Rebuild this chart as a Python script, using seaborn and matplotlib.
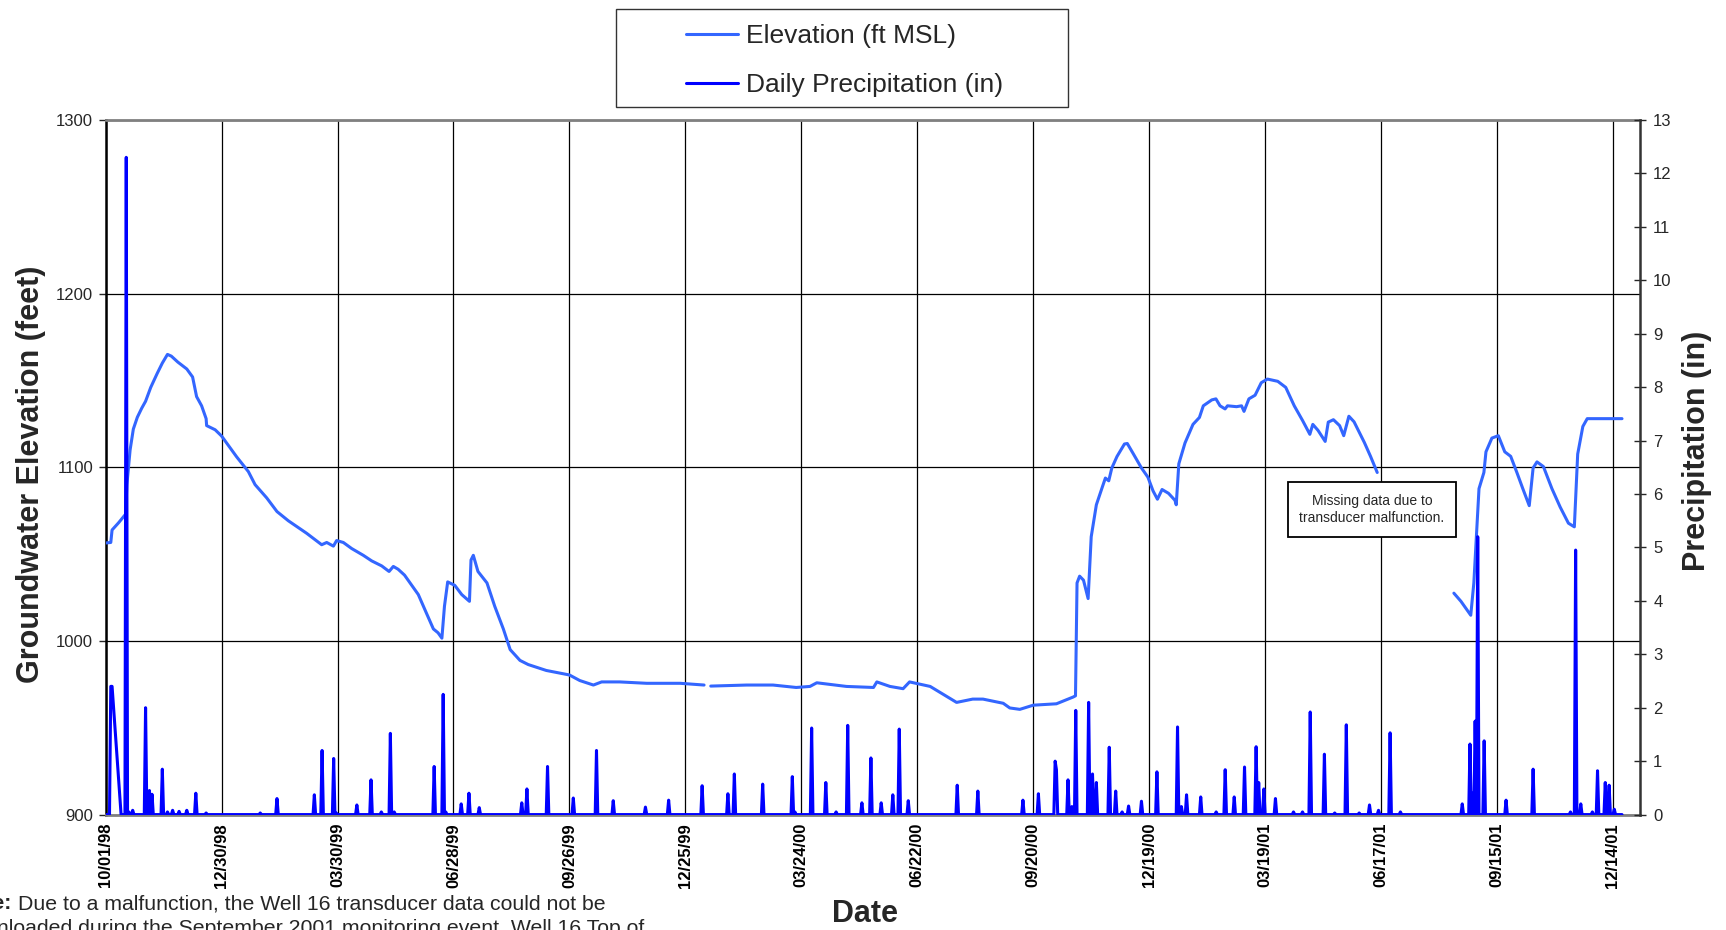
import numpy as np
import pandas as pd
import matplotlib
matplotlib.use("Agg")
import matplotlib.pyplot as plt
from matplotlib.patches import Rectangle
import seaborn as sns

# ==============================
# Data (days after 10/01/98)
# ==============================
start_date = pd.Timestamp("1998-10-01")

# groundwater elevation, np.nan marks a break in the record
elev_days = [0, 4, 5, 10, 15.5, 16.5, 19, 21.5, 24.6, 28, 31, 35, 40, 44, 48, 51, 56, 63,
             67.5, 70.6, 74.5, 78, 78.4, 85, 90, 101.7, 110.8, 116, 125, 133, 141.8, 156,
             167.7, 171.6, 176.8, 179.3, 184.5, 191, 200, 206.5, 214.3, 220, 223.3, 227,
             232, 242.7, 249, 254.4, 258, 261, 263, 265.5, 271, 276.4, 282.4, 283.6, 285.4,
             289, 296, 302, 308.7, 314, 321.6, 328, 342, 360, 368, 378.6, 385, 399, 420,
             446, 464.5, np.nan,
             469.7, 497.6, 518, 536, 546.7, 552, 575, 596, 598.6, 608.8, 619, 624, 640,
             660.5, 673, 681, 696.7, 701.8, 709.6, 720, 738, 751, 752.8, 754, 756, 759,
             762.6, 765, 769, 773.8, 776, 778.6, 781, 785, 790.8, 793, 797.8, 804, 809, 813,
             816.4, 820, 825, 830, 831, 833, 837.8, 844, 849, 852, 858.6, 861.8, 865, 868.9,
             870.8, 877.8, 881.7, 883.6, 887.4, 892.2, 897, 901.8, 909.8, 916, 922.6, 929,
             934.7, 937, 941, 946.6, 949, 953, 957.8, 961, 965, 969, 977, 981.8, 987, np.nan,
             1046.5, 1052, 1059.6, 1062, 1066, 1069.8, 1071.4, 1076, 1081, 1086, 1090.6,
             1095.4, 1100, 1105, 1108, 1111, 1116, 1122.6, 1129, 1135.4, 1140, 1142.6,
             1146.6, 1150, 1177]
elev_ft = [1056.4, 1056.7, 1063.9, 1068, 1073, 1090, 1110, 1122, 1128.8, 1134, 1138, 1146,
           1154, 1160, 1165, 1164, 1160.6, 1156.6, 1152, 1140.7, 1135.4, 1128, 1124, 1121.6,
           1118, 1106, 1097.5, 1090, 1082.4, 1074.5, 1069.2, 1062, 1055.4, 1056.7, 1054.6,
           1057.8, 1056.7, 1053.2, 1049.3, 1046.1, 1043.2, 1040, 1042.9, 1041.3, 1037.9,
           1026.7, 1016, 1006.9, 1004.7, 1001.6, 1020, 1034, 1032, 1026.7, 1022.8, 1046.6,
           1049.3, 1040, 1033.4, 1020, 1006.9, 995, 988.8, 986.4, 983, 980.4, 977.2, 974.6,
           976.4, 976.4, 975.6, 975.6, 974.6, np.nan,
           974, 974.6, 974.6, 973.2, 973.8, 975.9, 973.8, 973.2, 976.4, 973.8, 972.5, 976.4,
           973.8, 964.6, 966.5, 966.5, 964.1, 961.4, 960.6, 963, 963.8, 967.7, 968.4,
           1033.4, 1037.3, 1035, 1024.4, 1060, 1078.4, 1089, 1093.8, 1092.2, 1099.6, 1106.2,
           1113.4, 1113.7, 1107.6, 1099.6, 1094.3, 1086.4, 1081.6, 1087.2, 1085, 1081,
           1078.4, 1102, 1114, 1124.7, 1128.7, 1135.4, 1138.8, 1139.4, 1135.4, 1133.6,
           1135.4, 1134.9, 1135.4, 1132.2, 1139.4, 1141.5, 1148.7, 1150.8, 1149.5, 1146,
           1135.4, 1127, 1119, 1124.7, 1121.3, 1114.9, 1126, 1127.4, 1124, 1118.2, 1129.4,
           1126.2, 1114.3, 1106.3, 1097, np.nan,
           1027.5, 1022.8, 1014.8, 1033.4, 1087.7, 1097, 1108.9, 1116.8, 1118.2, 1108.9,
           1106.3, 1097, 1087.7, 1077.9, 1099.6, 1103.1, 1100.4, 1087.7, 1077.1, 1067.8,
           1065.7, 1107.6, 1123.5, 1128, 1128]

# daily precipitation: rainy days only, all other recorded days are 0
precip_days = [4, 5, 16, 18, 21, 31, 34, 36, 44, 48, 52, 57, 63, 70, 78, 120, 133, 162, 168,
               177, 179, 195, 206, 214, 221, 224, 255, 262, 264, 276, 282, 290, 323, 327, 343,
               363, 381, 394, 419, 437, 463, 483, 488, 510, 533, 535, 548, 559, 567, 576, 587,
               594, 602, 611, 616, 623, 661, 677, 712, 724, 737, 738, 747, 750, 753, 763, 766,
               769, 779, 784, 789, 794, 804, 816, 832, 835, 839, 850, 862, 869, 876, 884, 893,
               895, 899, 908, 922, 929, 935, 946, 954, 963, 973, 981, 988, 997, 1005, 1053,
               1059, 1061, 1063, 1065, 1070, 1087, 1108, 1137, 1141, 1145, 1154, 1158, 1164,
               1167, 1171]
precip_in = [2.4, 2.4, 12.3, 0.05, 0.08, 2.0, 0.45, 0.38, 0.85, 0.05, 0.08, 0.06, 0.08, 0.4,
             0.03, 0.03, 0.3, 0.37, 1.2, 1.05, 0.03, 0.18, 0.65, 0.05, 1.52, 0.05, 0.9, 2.25,
             0.05, 0.2, 0.4, 0.13, 0.22, 0.48, 0.9, 0.31, 1.2, 0.26, 0.14, 0.27, 0.54, 0.39,
             0.76, 0.57, 0.71, 0.05, 1.62, 0.6, 0.05, 1.67, 0.22, 1.06, 0.22, 0.37, 1.6, 0.26,
             0.55, 0.44, 0.27, 0.39, 1.0, 0.84, 0.65, 0.15, 1.95, 2.1, 0.76, 0.6, 1.26, 0.44,
             0.05, 0.16, 0.25, 0.8, 1.64, 0.15, 0.37, 0.33, 0.05, 0.84, 0.33, 0.89, 1.27, 0.6,
             0.48, 0.3, 0.05, 0.05, 1.92, 1.13, 0.03, 1.68, 0.03, 0.18, 0.08, 1.53, 0.05, 0.2,
             1.32, 0.4, 1.75, 5.2, 1.38, 0.27, 0.85, 0.05, 4.95, 0.2, 0.05, 0.82, 0.6, 0.55,
             0.1]
precip_first_day = 0
precip_last_day = 1177
precip_no_record = [6, 7, 8, 9, 10, 11]

tick_labels = ["10/01/98", "12/30/98", "03/30/99", "06/28/99", "09/26/99", "12/25/99",
               "03/24/00", "06/22/00", "09/20/00", "12/19/00", "03/19/01", "06/17/01",
               "09/15/01", "12/14/01"]

# ==============================
# Build frames
# ==============================
elev = pd.DataFrame({"day": elev_days, "ft": elev_ft})
elev["segment"] = elev["day"].isna().cumsum()
elev = elev.dropna()
elev["date"] = start_date + pd.to_timedelta(elev["day"], unit="D")

precip = pd.Series(0.0, index=range(precip_first_day, precip_last_day + 1))
precip.loc[precip_days] = precip_in
precip = precip.drop(precip_no_record)
precip = precip.rename_axis("day").reset_index(name="inches")
precip["date"] = start_date + pd.to_timedelta(precip["day"], unit="D")

# ==============================
# Plot
# ==============================
sns.set_style("white")
plt.rcParams["font.family"] = ["Liberation Sans", "DejaVu Sans"]

elev_color = "#3366FF"
precip_color = "#0000FF"

fig = plt.figure(figsize=(17.26, 9.30), dpi=100)
ax = fig.add_axes([0.0612, 0.1241, 0.8890, 0.7469])
ax2 = ax.twinx()

sns.lineplot(data=elev, x="date", y="ft", units="segment", estimator=None, sort=False,
             color=elev_color, lw=2.2, label="Elevation (ft MSL)", ax=ax, zorder=3)
sns.lineplot(data=precip, x="date", y="inches", estimator=None, sort=False,
             color=precip_color, lw=2.2, label="Daily Precipitation (in)", ax=ax2, zorder=3)

h1, l1 = ax.get_legend_handles_labels()
h2, l2 = ax2.get_legend_handles_labels()
ax.get_legend().remove()
ax2.get_legend().remove()

# x axis
tick_dates = [pd.to_datetime(t, format="%m/%d/%y") for t in tick_labels]
ax.set_xlim(start_date, start_date + pd.Timedelta(days=1191))
ax.set_xticks(tick_dates)
ax.set_xticklabels(tick_labels, rotation=90, fontweight="bold", fontsize=12)
ax.tick_params(axis="x", direction="out", length=5, width=1, pad=1, colors="black")
ax.set_xlabel("")

# left axis
ax.set_ylim(900, 1300)
ax.set_yticks([900, 1000, 1100, 1200, 1300])
ax.tick_params(axis="y", direction="out", length=5, width=1, pad=4, labelsize=12)
ax.set_ylabel("")
ax.grid(True, color="black", lw=0.9, zorder=0)
ax.set_axisbelow(True)

# right axis
ax2.set_ylim(0, 13)
ax2.set_yticks(range(0, 14))
ax2.tick_params(axis="y", direction="inout", length=9, width=1, pad=5, labelsize=12)
ax2.set_ylabel("")
ax2.grid(False)

for s in ["top", "bottom"]:
    ax.spines[s].set_color("#808080")
    ax.spines[s].set_linewidth(2)
ax.spines["left"].set_color("black")
ax.spines["left"].set_linewidth(1.8)
ax.spines["right"].set_visible(False)
for s in ["top", "bottom", "left"]:
    ax2.spines[s].set_visible(False)
ax2.spines["right"].set_color("#333333")
ax2.spines["right"].set_linewidth(1.8)

# axis titles
fig.text(31 / 1726, 1 - 474 / 930, "Groundwater Elevation (feet)", rotation=90,
         ha="center", va="center", fontsize=22, fontweight="bold")
fig.text(1697 / 1726, 1 - 451 / 930, "Precipitation (in)", rotation=90,
         ha="center", va="center", fontsize=22, fontweight="bold")
fig.text(865 / 1726, 1 - 914 / 930, "Date", ha="center", va="center",
         fontsize=22, fontweight="bold")

# legend with its own box (one entry per series)
fig.legend([h1[0], h2[0]], [l1[0], l2[0]], loc="center", bbox_to_anchor=(0.4893, 0.9349),
           frameon=False, fontsize=19, handlelength=1.97, handletextpad=0.3,
           labelspacing=0.95)
fig.patches.append(Rectangle((615.5 / 1726, 1 - 106.8 / 930), (1068 - 615.5) / 1726,
                             98 / 930, transform=fig.transFigure, fill=False,
                             ec="#333333", lw=1))

# annotation
fig.text(1372 / 1726, 1 - 509.5 / 930, "Missing data due to\ntransducer malfunction.",
         ha="center", va="center", fontsize=10, multialignment="center", linespacing=1.25,
         bbox=dict(boxstyle="square,pad=0.85", fc="white", ec="black", lw=1.3))

# note (runs off the page edge in the original)
fig.text(-42 / 1726, 1 - 909 / 930, "Note:", ha="left", va="baseline",
         fontsize=15.3, fontweight="bold")
fig.text(18 / 1726, 1 - 909 / 930,
         "Due to a malfunction, the Well 16 transducer data could not be",
         ha="left", va="baseline", fontsize=15.3)
fig.text(-42 / 1726, 1 - 934 / 930,
         "downloaded during the September 2001 monitoring event. Well 16 Top of",
         ha="left", va="baseline", fontsize=15.3)

fig.savefig("out.png", dpi=100)
